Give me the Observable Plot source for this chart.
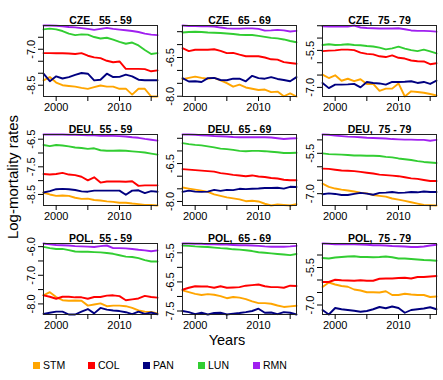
<!DOCTYPE html>
<html>
<head>
<meta charset="utf-8">
<script src="https://cdn.jsdelivr.net/npm/d3@7"></script>
<script src="https://cdn.jsdelivr.net/npm/@observablehq/plot@0.6"></script>
<style>
  html, body { margin: 0; padding: 0; background: #fff; }
  #chart { position: relative; width: 443px; height: 380px; background: #fff; overflow: hidden;
           font-family: "Liberation Sans", Arial, sans-serif; color: #000; }
  #chart svg { position: absolute; overflow: visible; }
  .lab { position: absolute; white-space: nowrap; }
  .legend { position: absolute; left: 33px; top: 359px; display: flex; font-size: 10.5px; }
  .legend .item { width: 55px; display: flex; align-items: center; }
  .legend .sw { width: 7px; height: 7px; margin-right: 3px; }
</style>
</head>
<body>
<div id="chart"></div>
<script>
// ---------- data ----------
const countries = ["CZE", "DEU", "POL"];
const ages = ["55 - 59", "65 - 69", "75 - 79"];
const series = ["STM", "COL", "PAN", "LUN", "RMN"];
const colors = ["#FFA500", "#FF0000", "#000080", "#32CD32", "#A020F0"];
const years = [1998,1999,2000,2001,2002,2003,2004,2005,2006,2007,2008,2009,2010,2011,2012,2013,2014,2015,2016];
const xTicks = [2000, 2005, 2010, 2015];
const xLabels = [2000, 2010];

// each panel: series in order STM, COL, PAN, LUN, RMN
const cze55 = [
  [-8.30,-8.16,-8.39,-8.50,-8.53,-8.56,-8.61,-8.65,-8.58,-8.51,-8.56,-8.56,-8.65,-8.64,-8.89,-8.65,-8.65,-8.97,-8.97],
  [-7.16,-7.16,-7.17,-7.17,-7.18,-7.20,-7.16,-7.27,-7.34,-7.37,-7.48,-7.54,-7.51,-7.82,-7.82,-7.82,-7.83,-7.92,-7.88],
  [-8.02,-8.33,-8.13,-8.22,-8.16,-8.07,-7.99,-8.02,-8.30,-8.27,-8.02,-8.16,-8.15,-8.06,-8.13,-8.27,-8.29,-8.29,-8.29],
  [-6.17,-6.14,-6.17,-6.24,-6.35,-6.41,-6.38,-6.39,-6.49,-6.55,-6.52,-6.60,-6.69,-6.77,-6.72,-6.84,-7.03,-7.20,-7.16],
  [-6.01,-6.01,-6.02,-6.04,-6.07,-6.09,-6.12,-6.15,-6.19,-6.15,-6.11,-6.15,-6.18,-6.21,-6.24,-6.28,-6.35,-6.39,-6.41]
];
const cze65 = [
  [-7.34,-7.29,-7.24,-7.29,-7.32,-7.29,-7.39,-7.49,-7.63,-7.55,-7.66,-7.71,-7.76,-7.74,-7.84,-7.82,-8.00,-7.89,-8.01],
  [-6.14,-6.25,-6.20,-6.20,-6.20,-6.18,-6.24,-6.33,-6.32,-6.39,-6.45,-6.45,-6.45,-6.50,-6.57,-6.58,-6.68,-6.71,-6.74],
  [-7.30,-7.43,-7.42,-7.45,-7.30,-7.29,-7.37,-7.38,-7.32,-7.32,-7.42,-7.21,-7.30,-7.32,-7.26,-7.33,-7.37,-7.42,-7.26],
  [-5.53,-5.51,-5.50,-5.51,-5.53,-5.54,-5.55,-5.57,-5.59,-5.62,-5.63,-5.63,-5.66,-5.70,-5.74,-5.76,-5.80,-5.86,-5.91],
  [-5.26,-5.28,-5.28,-5.29,-5.29,-5.30,-5.34,-5.37,-5.38,-5.38,-5.37,-5.37,-5.39,-5.46,-5.45,-5.43,-5.45,-5.49,-5.47]
];
const cze75 = [
  [-6.48,-6.62,-6.51,-6.73,-6.65,-6.75,-6.67,-6.86,-6.86,-7.14,-7.05,-7.05,-6.84,-7.37,-7.16,-7.19,-7.22,-7.27,-7.33],
  [-5.53,-5.51,-5.50,-5.47,-5.47,-5.49,-5.59,-5.64,-5.66,-5.74,-5.77,-5.70,-5.80,-5.83,-5.91,-5.94,-5.95,-6.06,-6.02],
  [-6.82,-7.03,-6.89,-6.89,-6.88,-6.86,-7.00,-6.78,-6.82,-6.84,-6.89,-6.78,-6.78,-6.77,-6.75,-6.82,-6.78,-6.86,-6.73],
  [-5.28,-5.25,-5.28,-5.27,-5.25,-5.28,-5.29,-5.32,-5.34,-5.39,-5.46,-5.42,-5.35,-5.43,-5.49,-5.53,-5.47,-5.54,-5.62],
  [-4.52,-4.53,-4.53,-4.52,-4.53,-4.49,-4.57,-4.59,-4.60,-4.61,-4.61,-4.61,-4.60,-4.64,-4.69,-4.71,-4.71,-4.72,-4.74]
];
const deu55 = [
  [-8.44,-8.50,-8.55,-8.54,-8.55,-8.62,-8.66,-8.65,-8.70,-8.72,-8.75,-8.77,-8.80,-8.80,-8.83,-8.85,-8.88,-8.88,-8.90],
  [-7.76,-7.78,-7.76,-7.72,-7.78,-7.80,-7.86,-7.99,-7.88,-8.07,-8.03,-8.03,-8.03,-8.04,-8.02,-8.19,-8.17,-8.17,-8.17],
  [-8.43,-8.38,-8.31,-8.30,-8.31,-8.34,-8.39,-8.40,-8.36,-8.36,-8.36,-8.36,-8.36,-8.51,-8.36,-8.35,-8.45,-8.38,-8.40],
  [-6.71,-6.75,-6.71,-6.73,-6.76,-6.80,-6.82,-6.85,-6.83,-6.90,-6.92,-6.92,-6.91,-6.92,-6.94,-6.96,-6.98,-7.02,-7.06],
  [-6.33,-6.33,-6.33,-6.33,-6.34,-6.34,-6.35,-6.36,-6.36,-6.38,-6.38,-6.38,-6.39,-6.40,-6.43,-6.45,-6.49,-6.52,-6.55]
];
const deu65 = [
  [-7.45,-7.49,-7.53,-7.57,-7.62,-7.72,-7.78,-7.84,-7.88,-7.92,-7.99,-7.97,-8.00,-8.09,-8.16,-8.12,-8.14,-8.16,-8.11],
  [-6.72,-6.74,-6.76,-6.78,-6.80,-6.82,-6.88,-6.91,-6.95,-6.97,-7.00,-6.97,-7.01,-7.03,-7.07,-7.09,-7.14,-7.16,-7.16],
  [-7.62,-7.57,-7.61,-7.62,-7.61,-7.54,-7.58,-7.54,-7.55,-7.50,-7.51,-7.50,-7.49,-7.47,-7.47,-7.46,-7.49,-7.42,-7.43],
  [-5.69,-5.73,-5.76,-5.78,-5.82,-5.86,-5.91,-5.93,-5.96,-6.00,-6.01,-6.00,-6.00,-6.01,-6.03,-6.05,-6.08,-6.08,-6.07],
  [-5.35,-5.35,-5.36,-5.38,-5.39,-5.41,-5.42,-5.43,-5.45,-5.46,-5.46,-5.46,-5.46,-5.46,-5.47,-5.50,-5.53,-5.51,-5.50]
];
const deu75 = [
  [-6.63,-6.75,-6.81,-6.85,-6.88,-6.92,-6.96,-6.99,-7.05,-7.08,-7.11,-7.18,-7.22,-7.27,-7.32,-7.37,-7.42,-7.43,-7.44],
  [-6.07,-6.08,-6.11,-6.14,-6.15,-6.16,-6.19,-6.22,-6.25,-6.29,-6.31,-6.33,-6.35,-6.39,-6.43,-6.45,-6.49,-6.53,-6.53],
  [-7.02,-6.99,-7.01,-7.05,-7.05,-7.01,-6.97,-7.00,-7.04,-6.97,-6.96,-6.94,-6.97,-6.96,-6.94,-6.95,-6.92,-6.94,-6.94],
  [-5.50,-5.53,-5.54,-5.55,-5.56,-5.58,-5.58,-5.59,-5.59,-5.60,-5.63,-5.65,-5.69,-5.72,-5.75,-5.79,-5.82,-5.84,-5.86],
  [-4.80,-4.81,-4.84,-4.86,-4.88,-4.89,-4.90,-4.92,-4.93,-4.94,-4.95,-4.97,-4.98,-4.99,-4.99,-5.00,-5.00,-5.03,-5.00]
];
const pol55 = [
  [-7.70,-7.59,-7.76,-7.87,-7.89,-7.88,-7.89,-8.06,-8.02,-7.98,-8.08,-8.06,-8.06,-8.08,-8.14,-8.23,-8.27,-8.28,-8.33],
  [-7.70,-7.75,-7.82,-7.75,-7.75,-7.77,-7.77,-7.82,-7.76,-7.76,-7.71,-7.70,-7.73,-7.87,-7.84,-7.81,-7.72,-7.76,-7.78],
  [-8.35,-8.31,-8.27,-8.27,-8.37,-8.37,-8.27,-8.18,-8.33,-8.14,-8.20,-8.23,-8.25,-8.29,-8.36,-8.27,-8.35,-8.30,-8.36],
  [-6.01,-6.05,-6.08,-6.08,-6.12,-6.17,-6.18,-6.18,-6.19,-6.20,-6.22,-6.25,-6.30,-6.35,-6.36,-6.40,-6.47,-6.52,-6.52],
  [-5.89,-5.92,-5.94,-5.95,-5.96,-5.98,-5.99,-6.00,-6.01,-5.98,-5.96,-6.05,-6.05,-6.06,-6.08,-6.11,-6.13,-6.16,-6.13]
];
const pol65 = [
  [-6.79,-6.85,-6.91,-6.95,-6.92,-6.94,-6.99,-7.06,-7.02,-7.04,-7.09,-7.17,-7.23,-7.23,-7.25,-7.31,-7.36,-7.34,-7.32],
  [-6.77,-6.70,-6.65,-6.66,-6.66,-6.70,-6.65,-6.70,-6.69,-6.68,-6.63,-6.61,-6.59,-6.65,-6.68,-6.68,-6.70,-6.63,-6.64],
  [-7.50,-7.54,-7.61,-7.56,-7.62,-7.57,-7.56,-7.62,-7.59,-7.57,-7.54,-7.50,-7.42,-7.56,-7.55,-7.61,-7.54,-7.56,-7.62],
  [-5.25,-5.26,-5.28,-5.29,-5.30,-5.32,-5.34,-5.35,-5.38,-5.39,-5.41,-5.44,-5.48,-5.50,-5.52,-5.54,-5.56,-5.58,-5.54],
  [-5.18,-5.18,-5.19,-5.19,-5.21,-5.21,-5.22,-5.22,-5.23,-5.24,-5.24,-5.25,-5.26,-5.28,-5.29,-5.29,-5.29,-5.28,-5.26]
];
const pol75 = [
  [-6.28,-6.10,-6.18,-6.24,-6.27,-6.38,-6.42,-6.49,-6.49,-6.50,-6.45,-6.60,-6.60,-6.55,-6.58,-6.60,-6.60,-6.68,-6.66],
  [-6.08,-6.08,-5.99,-6.01,-6.02,-6.03,-6.01,-6.03,-6.03,-5.95,-5.94,-5.94,-5.92,-5.91,-5.94,-5.88,-5.88,-5.86,-5.84],
  [-7.20,-7.38,-7.12,-7.17,-7.20,-7.23,-7.27,-7.24,-7.17,-7.08,-7.13,-7.06,-7.12,-7.31,-7.20,-7.17,-7.14,-7.09,-7.17],
  [-5.12,-5.14,-5.10,-5.08,-5.06,-5.05,-5.08,-5.08,-5.09,-5.08,-5.06,-5.09,-5.14,-5.14,-5.16,-5.18,-5.20,-5.21,-5.23],
  [-4.54,-4.55,-4.57,-4.57,-4.57,-4.57,-4.58,-4.59,-4.61,-4.61,-4.62,-4.64,-4.65,-4.66,-4.68,-4.68,-4.66,-4.62,-4.59]
];

// y tick marks and labelled ticks per panel (row-major: CZE, DEU, POL x ages)
const yTicks = [
  [-8.5,-8,-7.5,-7,-6.5], [-8,-7.5,-7,-6.5,-6,-5.5], [-7,-6.5,-6,-5.5,-5,-4.5],
  [-8.5,-8,-7.5,-7,-6.5], [-8,-7.5,-7,-6.5,-6,-5.5], [-7,-6.5,-6,-5.5,-5],
  [-8,-7.5,-7,-6.5,-6],   [-7.5,-7,-6.5,-6,-5.5],    [-7,-6.5,-6,-5.5,-5]
];
const yLabels = [
  [-8.5,-7.0], [-8.0,-6.5], [-7.0,-5.5],
  [-8.5,-7.5,-6.5], [-8.0,-6.5], [-7.0,-5.5],
  [-8.0,-7.0,-6.0], [-7.5,-6.5,-5.5], [-7.0,-5.5]
];
const panelData = [cze55, cze65, cze75, deu55, deu65, deu75, pol55, pol65, pol75];

// ---------- layout ----------
const chart = document.getElementById("chart");
const font = '"Liberation Sans", Arial, sans-serif';
const boxLeft = [43, 182, 322], boxTop = [25, 134, 243];
const boxW = 114, boxH = 71;
const mL = 30, mR = 2, mT = 20, mB = 22;

countries.forEach((country, r) => {
  ages.forEach((age, c) => {
    const i = r * 3 + c;
    const rows = [];
    panelData[i].forEach((vals, s) => vals.forEach((v, k) => rows.push({series: series[s], year: years[k], value: v})));
    const svg = Plot.plot({
      width: mL + boxW + mR, height: mT + boxH + mB,
      marginLeft: mL, marginRight: mR, marginTop: mT, marginBottom: mB,
      x: {domain: [years[0], years[years.length - 1]]},
      color: {domain: series, range: colors},
      style: {fontFamily: font, fontSize: "11px", background: "transparent", color: "#000"},
      marks: [
        Plot.lineY(rows, {x: "year", y: "value", z: "series", stroke: "series", strokeWidth: 1.9}),
        Plot.frame({stroke: "#222"}),
        Plot.axisX(xTicks, {tickSize: 5, tickPadding: 2, label: null,
          tickFormat: d => xLabels.includes(d) ? String(d) : ""}),
        Plot.axisY(yTicks[i], {tickSize: 5, label: null, tickFormat: () => ""}),
        Plot.text(yLabels[i], {y: d => d, text: d => d.toFixed(1), frameAnchor: "left", dx: -12,
          rotate: -90, textAnchor: "middle", lineAnchor: "middle", fontSize: 11}),
        Plot.text([`${country}, \u00a0${age}`], {text: d => d, frameAnchor: "top", lineAnchor: "bottom",
          dy: -2, fontWeight: "bold", fontSize: 10.5})
      ]
    });
    svg.style.left = (boxLeft[c] - mL) + "px";
    svg.style.top = (boxTop[r] - mT) + "px";
    chart.appendChild(svg);
  });
});

// axis titles
const ylab = document.createElement("div");
ylab.className = "lab";
ylab.textContent = "Log-mortality rates";
ylab.style.cssText += "font-size:15px;left:12px;top:177px;transform:translate(-50%,-50%) rotate(-90deg);";
chart.appendChild(ylab);

const xlab = document.createElement("div");
xlab.className = "lab";
xlab.textContent = "Years";
xlab.style.cssText += "font-size:14.5px;left:227px;top:340px;transform:translate(-50%,-50%);";
chart.appendChild(xlab);

// legend
const legend = document.createElement("div");
legend.className = "legend";
series.forEach((s, k) => {
  const item = document.createElement("div");
  item.className = "item";
  const sw = document.createElement("span");
  sw.className = "sw";
  sw.style.background = colors[k];
  const t = document.createElement("span");
  t.textContent = s;
  item.appendChild(sw); item.appendChild(t);
  legend.appendChild(item);
});
chart.appendChild(legend);
</script>
</body>
</html>
